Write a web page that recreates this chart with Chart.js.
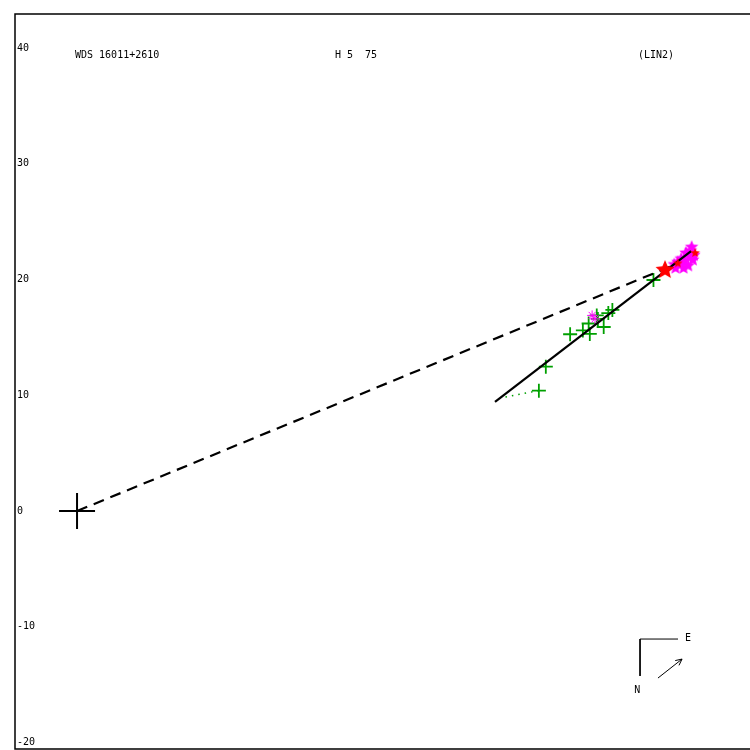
<!DOCTYPE html>
<html>
<head>
<meta charset="utf-8">
<script src="https://cdn.jsdelivr.net/npm/chart.js@4/dist/chart.umd.min.js"></script>
<style>
  html, body { margin: 0; padding: 0; background: #fff; }
  canvas { display: block; }
</style>
</head>
<body>
<canvas id="orbit" width="750" height="750"></canvas>
<script>
// axis limits and tick labels (arcsec-ish plot units)
const xRange = [-5.36, 58.14];
const yRange = [-20.56, 42.94];
const yTicks = [-20, -10, 0, 10, 20, 30, 40];

// primary star
const primary = [{ x: 0, y: 0 }];

// green measures (micrometer)
const measX = [39.9, 40.5, 42.6, 43.7, 44.3, 44.2, 45.5, 45.0, 45.9, 46.25, 49.8, 44.9];
const measY = [10.4, 12.47, 15.27, 15.6, 15.3, 16.2, 15.9, 16.6, 17.1, 17.37, 19.96, 16.9];

// magenta measures (interferometric)
const interX = [51.7, 52.1, 52.5, 52.9, 53.0, 52.6, 52.2, 53.2, 51.9, 52.8, 53.3, 52.4, 51.6, 53.1, 44.75, 44.5];
const interY = [21.0, 21.3, 21.6, 22.0, 22.5, 22.3, 21.8, 21.7, 21.5, 21.2, 22.1, 21.0, 21.3, 22.8, 16.6, 16.9];

// red points (latest)
const redX = [50.8, 53.4, 51.9];
const redY = [20.82, 22.3, 21.4];

// linear fit, ephemeris line, O-C residual
const fitX = [36.11, 53.05];
const fitY = [9.42, 22.46];
const ephemX = [0, 51.2];
const ephemY = [0, 21.1];
const residX = [39.9, 37.0];
const residY = [10.4, 9.85];

// compass
const compassL = [{ x: 51.92, y: -11.06 }, { x: 48.64, y: -11.06 }, { x: 48.64, y: -14.25 }];
const compassArrow = [{ x: 50.19, y: -14.43 }, { x: 52.27, y: -12.79 }];

function pts(xs, ys) { return xs.map(function (x, i) { return { x: x, y: ys[i] }; }); }

function starImage(r, color) {
  const c = document.createElement('canvas');
  c.width = c.height = r * 2 + 2;
  const g = c.getContext('2d');
  g.fillStyle = color;
  g.beginPath();
  for (let i = 0; i < 10; i++) {
    const rad = i % 2 === 0 ? r : r * 0.45;
    const a = -Math.PI / 2 + i * Math.PI / 5;
    const px = r + 1 + rad * Math.cos(a), py = r + 1 + rad * Math.sin(a);
    if (i === 0) g.moveTo(px, py); else g.lineTo(px, py);
  }
  g.closePath();
  g.fill();
  return c;
}

const mono = '"DejaVu Sans Mono", "Liberation Mono", monospace';

const decor = {
  id: 'decor',
  afterDraw: function (chart) {
    const ctx = chart.ctx, a = chart.chartArea;
    const xs = chart.scales.x, ys = chart.scales.y;
    ctx.save();
    ctx.strokeStyle = '#000';
    ctx.lineWidth = 1.5;
    ctx.beginPath();
    ctx.moveTo(a.right + 2, a.top);
    ctx.lineTo(a.left, a.top);
    ctx.lineTo(a.left, a.bottom);
    ctx.lineTo(a.right + 2, a.bottom);
    ctx.stroke();
    ctx.fillStyle = '#000';
    ctx.font = '10px ' + mono;
    ctx.textBaseline = 'middle';
    ctx.fillText('WDS 16011+2610', a.left + 60, a.top + 41);
    ctx.fillText('H 5  75', a.left + 320, a.top + 41);
    ctx.fillText('(LIN2)', a.left + 623, a.top + 41);
    ctx.textAlign = 'center';
    ctx.fillText('E', xs.getPixelForValue(52.79), ys.getPixelForValue(-10.97));
    ctx.fillText('N', xs.getPixelForValue(48.4), ys.getPixelForValue(-15.5));
    // arrow head
    const p1 = compassArrow[0], p2 = compassArrow[1];
    const x2 = xs.getPixelForValue(p2.x), y2 = ys.getPixelForValue(p2.y);
    const ang = Math.atan2(y2 - ys.getPixelForValue(p1.y), x2 - xs.getPixelForValue(p1.x));
    ctx.lineWidth = 1;
    ctx.beginPath();
    ctx.moveTo(x2 - 7 * Math.cos(ang - 0.45), y2 - 7 * Math.sin(ang - 0.45));
    ctx.lineTo(x2, y2);
    ctx.lineTo(x2 - 7 * Math.cos(ang + 0.45), y2 - 7 * Math.sin(ang + 0.45));
    ctx.stroke();
    ctx.restore();
  }
};

new Chart(document.getElementById('orbit'), {
  type: 'scatter',
  data: {
    datasets: [
      {
        label: 'latest',
        data: pts(redX, redY),
        pointStyle: [starImage(10, '#ff0000'), starImage(5, '#ff0000'), starImage(5, '#ff0000')],
        order: 0
      },
      {
        label: 'fit',
        data: pts(fitX, fitY),
        showLine: true,
        borderColor: '#000',
        borderWidth: 2.2,
        pointRadius: 0,
        order: 1
      },
      {
        label: 'ephemeris',
        data: pts(ephemX, ephemY),
        showLine: true,
        borderColor: '#000',
        borderWidth: 2.2,
        borderDash: [11, 7],
        pointRadius: 0,
        order: 2
      },
      {
        label: 'O-C',
        data: pts(residX, residY),
        showLine: true,
        borderColor: '#00a000',
        borderWidth: 1.5,
        borderDash: [1.5, 5],
        pointRadius: 0,
        order: 3
      },
      {
        label: 'interferometric',
        data: pts(interX, interY),
        pointStyle: interX.map(function (x) { return x > 50 ? starImage(7, '#ff00ff') : 'star'; }),
        pointRadius: 5,
        borderColor: '#ff00ff',
        borderWidth: 1,
        order: 4
      },
      {
        label: 'micrometer',
        data: pts(measX, measY),
        pointStyle: 'cross',
        pointRadius: 7,
        borderColor: '#00a000',
        borderWidth: 1.8,
        order: 5
      },
      {
        label: 'primary',
        data: primary,
        pointStyle: 'cross',
        pointRadius: 18,
        borderColor: '#000',
        borderWidth: 2,
        order: 6
      },
      {
        label: 'compass',
        data: compassL,
        showLine: true,
        borderColor: '#000',
        borderWidth: 1,
        pointRadius: 0,
        order: 7
      },
      {
        label: 'arrow',
        data: compassArrow,
        showLine: true,
        borderColor: '#000',
        borderWidth: 1,
        pointRadius: 0,
        order: 8
      }
    ]
  },
  options: {
    responsive: false,
    animation: false,
    events: [],
    layout: { autoPadding: false, padding: { left: 15, top: 14, right: 0, bottom: 1 } },
    plugins: {
      legend: { display: false },
      tooltip: { enabled: false }
    },
    scales: {
      x: {
        type: 'linear',
        min: xRange[0],
        max: xRange[1],
        display: false
      },
      y: {
        type: 'linear',
        min: yRange[0],
        max: yRange[1],
        afterFit: function (s) {
          s.width = 0;
          s.paddingTop = 0;
          s.paddingBottom = 0;
        },
        afterBuildTicks: function (s) { s.ticks = yTicks.map(function (v) { return { value: v }; }); },
        grid: { display: false, drawTicks: false },
        border: { display: false },
        ticks: {
          mirror: true,
          padding: 2,
          color: '#000',
          font: { family: mono, size: 10 },
          callback: function (v) { return String(v); }
        }
      }
    }
  },
  plugins: [decor]
});
</script>
</body>
</html>
